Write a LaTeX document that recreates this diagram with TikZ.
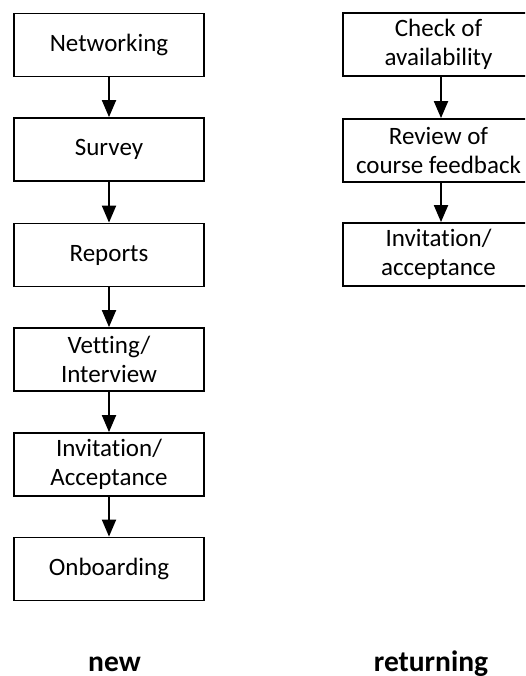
\documentclass[tikz,border=0pt]{standalone}
\usepackage{fontspec}
\setmainfont{Carlito}[Ligatures={NoCommon}]
\usetikzlibrary{arrows.meta}
\begin{document}
\begin{tikzpicture}[x=1pt,y=-1pt,
  stepbox/.style={draw=black,line width=1.8pt,minimum width=190.5pt,minimum height=63pt,inner sep=0pt,align=center,font=\fontsize{25}{29.5}\selectfont},
  flow/.style={line width=2pt,-{Triangle[width=14pt,length=17pt]}},
  lab/.style={anchor=base,font=\fontsize{29.5}{34}\selectfont\bfseries}]
\clip (0,0) rectangle (525,676);
\fill[white] (0,0) rectangle (525,676);
\node[stepbox] (n1) at (109,45) {Networking};
\node[stepbox] (n2) at (109,149.5) {Survey};
\node[stepbox] (n3) at (109,255) {Reports};
\node[stepbox] (n4) at (109,359.5) {Vetting/\\Interview};
\node[stepbox] (n5) at (109,464.5) {Invitation/\\Acceptance};
\node[stepbox] (n6) at (109,569) {Onboarding};
\node[stepbox] (r1) at (438.5,44.5) {Check of\\availability};
\node[stepbox] (r2) at (438.5,150.5) {Review of\\course feedback};
\node[stepbox] (r3) at (438.5,254.5) {Invitation/\\acceptance};
\draw[flow] (n1) -- (n2);
\draw[flow] (n2) -- (n3);
\draw[flow] (n3) -- (n4);
\draw[flow] (n4) -- (n5);
\draw[flow] (n5) -- (n6);
\draw[flow] (r1.south -| 441,0) -- (r2.north -| 441,0);
\draw[flow] (r2.south -| 441,0) -- (r3.north -| 441,0);
\node[lab] (lnew) at (114.5,671) {new};
\node[lab] (lret) at (431,671) {returning};
\end{tikzpicture}
\end{document}
